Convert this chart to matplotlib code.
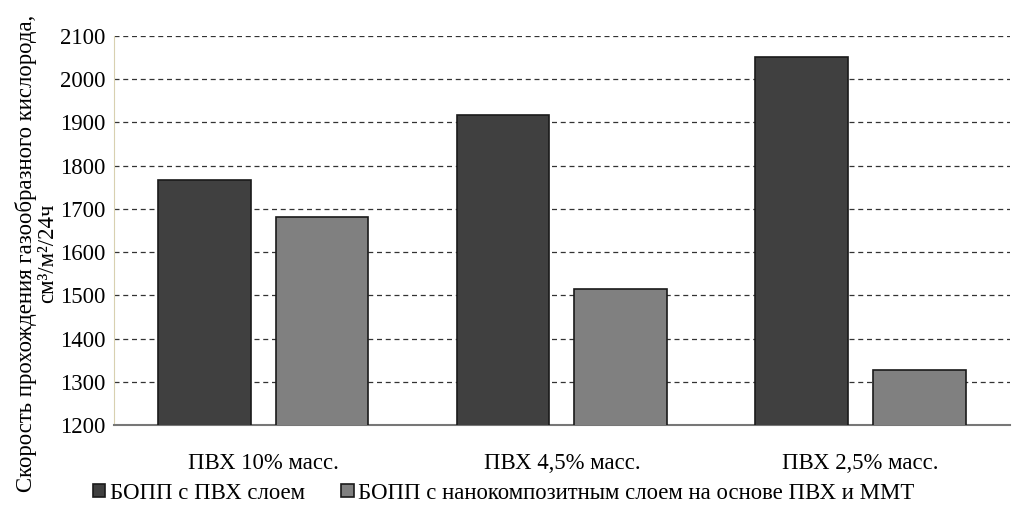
import numpy as np
import matplotlib
matplotlib.use('Agg')
import matplotlib.pyplot as plt

plt.rcParams['font.family'] = ['Liberation Serif', 'DejaVu Serif']

# данные
categories = ['ПВХ 10% масс.', 'ПВХ 4,5% масс.', 'ПВХ 2,5% масс.']
bopp_pvc = [1767, 1917, 2051]
bopp_nano = [1681, 1515, 1327]
series_names = ['БОПП с ПВХ слоем', 'БОПП с нанокомпозитным слоем на основе ПВХ и ММТ']

fig = plt.figure(figsize=(10.15, 5.13), dpi=100)
ax = fig.add_axes([0.1123, 0.1715, 0.8827, 0.7585])

x = np.arange(len(categories))
w = 0.31
ax.bar(x - 0.197, bopp_pvc, w, color='#404040', edgecolor='#1a1a1a', linewidth=1.2,
       label=series_names[0], zorder=3)
ax.bar(x + 0.197, bopp_nano, w, color='#808080', edgecolor='#1a1a1a', linewidth=1.2,
       label=series_names[1], zorder=3)

ax.set_xlim(-0.5, 2.5)
ax.set_ylim(1200, 2100)
ax.set_yticks(range(1200, 2101, 100))
ax.set_xticks(x)
ax.set_xticklabels(categories)
ax.tick_params(axis='both', length=0, labelsize=16.4)
ax.tick_params(axis='x', pad=20)
ax.tick_params(axis='y', pad=6)

ax.yaxis.grid(True, linestyle=(0, (4, 3)), color='#333333', linewidth=0.9, zorder=0)
for s in ['top', 'right']:
    ax.spines[s].set_visible(False)
ax.spines['left'].set_color('#d8d0b0')
ax.spines['bottom'].set_color('#777777')
ax.spines['bottom'].set_linewidth(1.5)

ax.set_ylabel('Скорость прохождения газообразного кислорода,\nсм³/м²/24ч',
              fontsize=16.4, linespacing=1.05)
ax.yaxis.set_label_coords(-0.062, 0.44)

ax.legend(loc='center left', bbox_to_anchor=(-0.034, -0.175), ncol=2, frameon=False,
          fontsize=16.4, handlelength=0.55, handleheight=0.55, handletextpad=0.2,
          columnspacing=1.6, borderaxespad=0)

fig.savefig('out.png', dpi=100)
